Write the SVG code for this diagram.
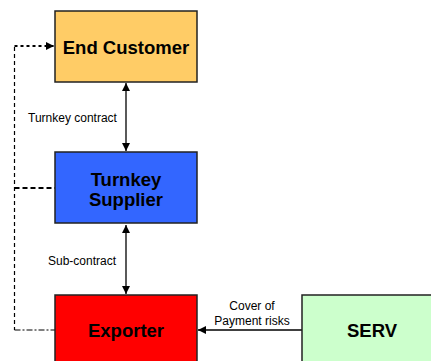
<svg xmlns="http://www.w3.org/2000/svg" width="431" height="361" viewBox="0 0 431 361">
<style>
.box{stroke:#222;stroke-width:1.5}
.lbl{font-family:"Liberation Sans",Arial,sans-serif;font-weight:bold;font-size:18.5px;fill:#000;text-anchor:middle}
.sm{font-family:"Liberation Sans",Arial,sans-serif;font-size:12px;fill:#000}
.con{stroke:#000;fill:none}
</style>
<defs>
<marker id="ah" viewBox="0 0 10 10" refX="10" refY="5" markerWidth="8" markerHeight="8" markerUnits="userSpaceOnUse" orient="auto-start-reverse">
<path d="M0,0 L10,5 L0,10 z" fill="#000"/>
</marker>
</defs>
<rect width="431" height="361" fill="#fff"/>
<g id="connectors">
<line class="con" x1="126" y1="83" x2="126" y2="151" stroke-width="1.3" marker-start="url(#ah)" marker-end="url(#ah)"/>
<line class="con" x1="126" y1="225" x2="126" y2="294" stroke-width="1.3" marker-start="url(#ah)" marker-end="url(#ah)"/>
<line class="con" x1="302" y1="330" x2="198" y2="330" stroke-width="1.3" marker-end="url(#ah)"/>
<line class="con" x1="14.5" y1="47" x2="14.5" y2="330" stroke-width="1.2" stroke-dasharray="4,3"/>
<line class="con" x1="14.5" y1="46" x2="54" y2="46" stroke-width="2" stroke-dasharray="3,3" marker-end="url(#ah)"/>
<line class="con" x1="14.5" y1="188" x2="55" y2="188" stroke-width="2" stroke-dasharray="5,3"/>
<line class="con" x1="14.5" y1="330" x2="55" y2="330" stroke-width="1.2" stroke-dasharray="6,2,2,2"/>
<text class="sm" x="28" y="122">Turnkey contract</text>
<text class="sm" x="48" y="265">Sub-contract</text>
<text class="sm" x="252" y="310" text-anchor="middle">Cover of</text>
<text class="sm" x="252" y="325" text-anchor="middle">Payment risks</text>
</g>
<g id="end-customer">
<rect class="box" x="55" y="11" width="142" height="71" fill="#FFCC66"/>
<text class="lbl" x="126" y="54">End Customer</text>
</g>
<g id="turnkey-supplier">
<rect class="box" x="55" y="152" width="142" height="71" fill="#3366FF"/>
<text class="lbl" x="126" y="186">Turnkey</text>
<text class="lbl" x="126" y="206">Supplier</text>
</g>
<g id="exporter">
<rect class="box" x="55" y="295" width="142" height="80" fill="#FF0000"/>
<text class="lbl" x="126" y="337">Exporter</text>
</g>
<g id="serv">
<rect class="box" x="302" y="295" width="140" height="80" fill="#CCFFCC"/>
<text class="lbl" x="372" y="337">SERV</text>
</g>
</svg>
